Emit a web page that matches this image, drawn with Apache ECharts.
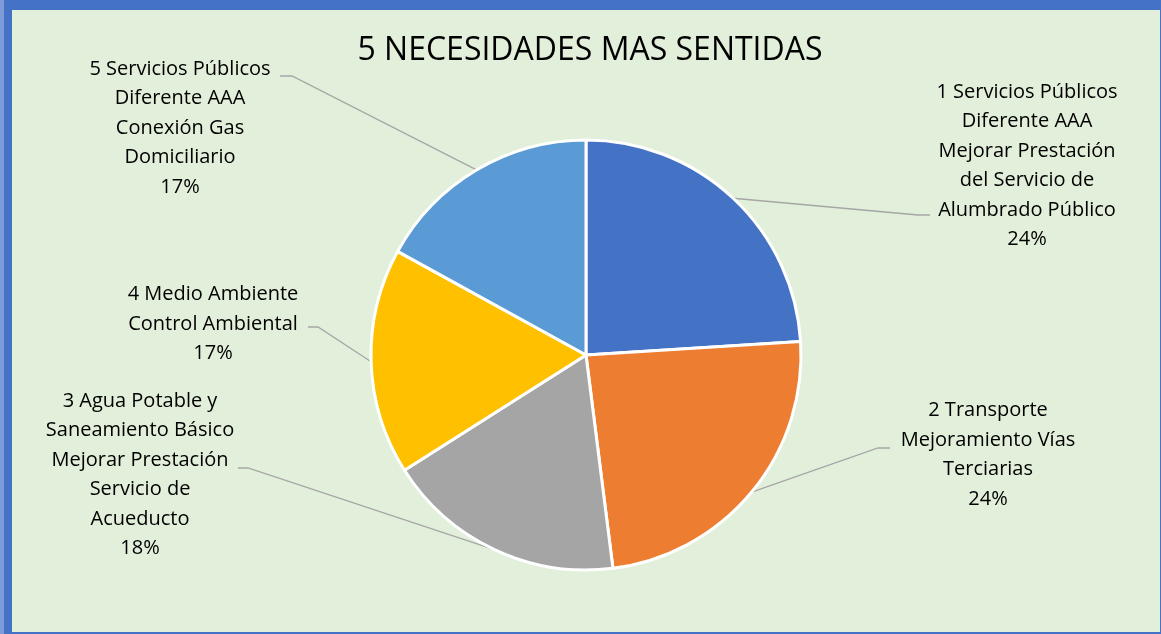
<!DOCTYPE html>
<html>
<head>
<meta charset="utf-8">
<script src="https://cdn.jsdelivr.net/npm/echarts@6/dist/echarts.min.js"></script>
<style>
  html, body { margin: 0; padding: 0; background: #4472c4; }
  #frame {
    position: absolute; left: 0; top: 0; width: 1161px; height: 634px;
    background: #4472c4; overflow: hidden;
  }
  #edge { position: absolute; left: 0; top: 0; width: 4px; height: 634px; background: #7d9bd8; }
  #chart {
    position: absolute; left: 12px; top: 10px; width: 1148px; height: 622px;
    background: #e2efda;
  }
</style>
</head>
<body>
<div id="frame"><div id="edge"></div><div id="chart"></div></div>
<script>
const titleText = '5 NECESIDADES MAS SENTIDAS'
const categories = [
  '1 Servicios Públicos\nDiferente AAA\nMejorar Prestación\ndel Servicio de\nAlumbrado Público',
  '2 Transporte\nMejoramiento Vías\nTerciarias',
  '3 Agua Potable y\nSaneamiento Básico\nMejorar Prestación\nServicio de\nAcueducto',
  '4 Medio Ambiente\nControl Ambiental',
  '5 Servicios Públicos\nDiferente AAA\nConexión Gas\nDomiciliario'
]
const values = [24, 24, 18, 17, 17]
const colors = ['#4472c4', '#ed7d31', '#a5a5a5', '#ffc000', '#5b9bd5']

// label block centres inside the chart box
const labelSpots = [
  [1015, 156],
  [976, 445],
  [128, 465],
  [201, 314],
  [168, 118]
]
// where each leader line bends and where it meets the text
const leaderEnds = [
  [[906, 205], [918, 205]],
  [[866, 438], [878, 438]],
  [[236, 458], [226, 458]],
  [[306, 317], [296, 317]],
  [[280, 66], [268, 66]]
]

const chart = echarts.init(document.getElementById('chart'))

chart.setOption({
  animation: false,
  title: {
    text: titleText,
    left: 573,
    top: 20,
    textAlign: 'center',
    textStyle: {
      fontFamily: 'Open Sans',
      fontSize: 32,
      fontWeight: 'normal',
      color: '#000'
    }
  },
  series: [
    {
      type: 'pie',
      center: [574, 345],
      radius: 215,
      startAngle: 90,
      clockwise: true,
      data: categories.map((name, i) => ({
        name,
        value: values[i],
        itemStyle: { color: colors[i] }
      })),
      itemStyle: { borderColor: '#ffffff', borderWidth: 3 },
      label: {
        show: true,
        position: 'outside',
        formatter: (p) => p.name + '\n' + Math.round(p.percent) + '%',
        fontFamily: 'Open Sans',
        fontSize: 20,
        lineHeight: 29.5,
        color: '#000',
        align: 'center'
      },
      labelLine: {
        show: true,
        length: 20,
        length2: 20,
        smooth: false,
        lineStyle: { color: '#a6a6a6', width: 1.3 }
      },
      labelLayout: (params) => {
        const i = params.dataIndex
        const out = {
          x: labelSpots[i][0],
          y: labelSpots[i][1],
          align: 'center',
          verticalAlign: 'middle'
        }
        if (params.labelLinePoints && params.labelLinePoints.length) {
          out.labelLinePoints = [params.labelLinePoints[0], leaderEnds[i][0], leaderEnds[i][1]]
        }
        return out
      }
    }
  ]
})
</script>
</body>
</html>
